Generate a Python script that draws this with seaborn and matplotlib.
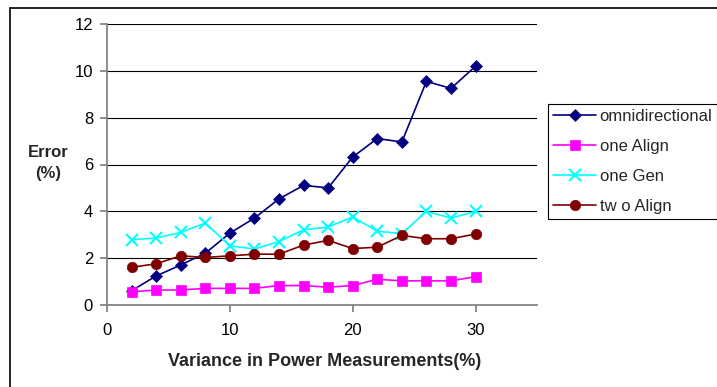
import matplotlib
matplotlib.use("Agg")
import matplotlib.pyplot as plt
import seaborn as sns
import pandas as pd
from matplotlib.lines import Line2D

sns.set_theme(style="white")
plt.rcParams['font.family'] = ['Liberation Sans', 'DejaVu Sans']

x = [2, 4, 6, 8, 10, 12, 14, 16, 18, 20, 22, 24, 26, 28, 30]
omni = [0.61, 1.24, 1.71, 2.21, 3.07, 3.71, 4.53, 5.11, 5.0, 6.32, 7.11, 6.96, 9.55, 9.25, 10.2]
one_align = [0.56, 0.64, 0.64, 0.71, 0.71, 0.71, 0.83, 0.83, 0.76, 0.83, 1.1, 1.03, 1.03, 1.03, 1.21]
one_gen = [2.79, 2.86, 3.1, 3.5, 2.53, 2.39, 2.71, 3.21, 3.33, 3.76, 3.15, 3.05, 4.0, 3.71, 4.0]
two_align = [1.61, 1.76, 2.1, 2.03, 2.1, 2.17, 2.17, 2.56, 2.76, 2.41, 2.47, 2.97, 2.83, 2.83, 3.03]
series_names = ["omnidirectional", "one Align", "one Gen", "tw o Align"]
x_ticks = [0, 10, 20, 30]
y_ticks = [0, 2, 4, 6, 8, 10, 12]

colors = {"omnidirectional": "#000080", "one Align": "#FF00FF",
          "one Gen": "#00FFFF", "tw o Align": "#800000"}
markers = {"omnidirectional": "D", "one Align": "s", "one Gen": "x", "tw o Align": "o"}
msizes = {"omnidirectional": 6.5, "one Align": 7, "one Gen": 8, "tw o Align": 7.5}

frames = []
for name, vals in zip(series_names, [omni, one_align, one_gen, two_align]):
    frames.append(pd.DataFrame({"x": x, "y": vals, "series": name}))
df = pd.concat(frames, ignore_index=True)

fig = plt.figure(figsize=(7.17, 3.87), dpi=100)
ax = fig.add_axes([107/717, 1-305/387, 430/717, 281/387])

for name in series_names:
    sub = df[df["series"] == name]
    sns.lineplot(data=sub, x="x", y="y", ax=ax, color=colors[name],
                 marker=markers[name], markersize=msizes[name],
                 markeredgecolor=colors[name], markeredgewidth=1.5 if name == "one Gen" else 0.5,
                 linewidth=1.2, legend=False, errorbar=None)

ax.set_xlim(0, 35)
ax.set_ylim(0, 12)
ax.set_xticks(x_ticks)
ax.set_yticks(y_ticks)
ax.set_xticklabels([str(t) for t in x_ticks], fontsize=12)
ax.set_yticklabels([str(t) for t in y_ticks], fontsize=12)
ax.yaxis.grid(True, color="black", linewidth=0.8)
ax.set_axisbelow(True)
for s in ["top", "right"]:
    ax.spines[s].set_visible(False)
ax.spines["left"].set_color("#808080")
ax.spines["bottom"].set_color("#808080")
ax.tick_params(axis="both", which="both", length=5, direction="out",
               left=True, bottom=True, colors="black")
ax.tick_params(axis="both", color="#808080")
ax.tick_params(axis="x", pad=8)
ax.tick_params(axis="y", pad=5)
ax.set_xlabel("")
ax.set_ylabel("")

fig.text(325/717, 1-361/387, "Variance in Power Measurements(%)", ha="center", va="center",
         fontsize=13, fontweight="bold")
fig.text(48/717, 1-163/387, "Error\n(%)", ha="center", va="center",
         fontsize=12, fontweight="bold", linespacing=1.45)

handles = [Line2D([0], [0], color=colors[n], marker=markers[n], markersize=msizes[n],
                  markeredgecolor=colors[n], markeredgewidth=1.5 if n == "one Gen" else 0.5,
                  linewidth=1.2) for n in series_names]
leg = fig.legend(handles, series_names, loc="upper left",
                 bbox_to_anchor=(548/717, 1-104/387), bbox_transform=fig.transFigure,
                 fontsize=12, frameon=True, fancybox=False, edgecolor="black",
                 framealpha=1, handlelength=2.6, handletextpad=0.2, labelspacing=0.9,
                 borderpad=0.3, borderaxespad=0)
leg.get_frame().set_linewidth(0.8)

# outer chart border (top and left visible)
fig.add_artist(Line2D([10/717, 10/717], [0, 1-8/387], transform=fig.transFigure,
                      color="black", linewidth=1.2))
fig.add_artist(Line2D([10/717, 1], [1-8/387, 1-8/387], transform=fig.transFigure,
                      color="black", linewidth=1.2))

fig.savefig("out.png", dpi=100)
